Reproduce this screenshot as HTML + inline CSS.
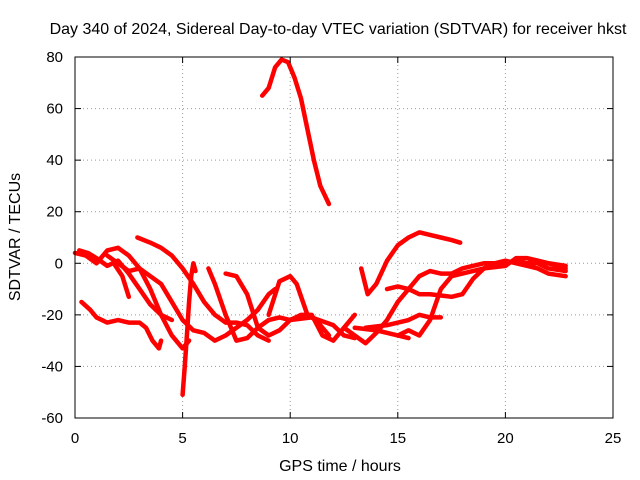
<!DOCTYPE html>
<html><head><meta charset="utf-8"><style>
body{margin:0;background:#fff}
svg{display:block;font-family:"Liberation Sans",sans-serif}
</style></head><body>
<svg id="chart" width="640" height="480">
<rect width="640" height="480" fill="#fff"/>
<text x="338" y="34" text-anchor="middle" font-size="16">Day 340 of 2024, Sidereal Day-to-day VTEC variation (SDTVAR) for receiver hkst</text>
<text transform="translate(20,237) rotate(-90)" text-anchor="middle" font-size="16">SDTVAR / TECUs</text>
<text x="340" y="471" text-anchor="middle" font-size="16">GPS time / hours</text>
<g id="grid"></g><g id="series"></g>
<rect x="75" y="57" width="538" height="361" fill="none" stroke="#000" stroke-width="1"/>
<g id="ticks"></g>
</svg>
<script>
const xTicks=[0,5,10,15,20,25];
const yTicks=[-60,-40,-20,0,20,40,60,80];
const tracks=[
[[8.7,65],[9.0,68],[9.3,76],[9.6,79],[9.9,78],[10.2,72],[10.5,64],[10.8,52],[11.1,40],[11.4,30],[11.8,23]],
[[0,4],[0.5,3],[1,0],[1.5,5],[2,6],[2.5,3],[3,-2],[3.5,-10],[4,-20],[4.5,-28],[5,-33],[5.3,-30]],
[[0.3,-15],[0.7,-18],[1,-21],[1.5,-23],[2,-22],[2.5,-23],[3,-23],[3.3,-25],[3.6,-30],[3.9,-33],[4,-30]],
[[2.9,10],[3.5,8],[4,6],[4.5,3],[5,-2],[5.5,-8],[6,-15],[6.5,-20],[7,-23],[7.5,-23],[8,-24],[8.5,-28],[9,-30]],
[[5.0,-51],[5.1,-40],[5.2,-28],[5.3,-15],[5.4,-5],[5.5,0],[5.6,-3]],
[[1.5,3],[2,0],[2.5,-3],[3,-2],[3.5,-5],[4,-8],[4.5,-15],[5,-22],[5.5,-26],[6,-27],[6.5,-30],[7,-28],[7.5,-25],[8,-22],[8.5,-18],[9,-12],[9.3,-10]],
[[6.2,-2],[6.5,-8],[7,-20],[7.5,-30],[8,-29],[8.5,-25],[9,-22],[9.5,-21],[10,-22],[10.5,-20],[11,-20],[11.5,-28],[12,-30],[12.5,-25],[13,-20]],
[[7,-4],[7.5,-5],[8,-12],[8.5,-25],[9,-28],[9.5,-26],[10,-22],[11,-21],[12,-24],[12.5,-28],[13,-29]],
[[9,-20],[9.5,-7],[10,-5],[10.3,-8],[10.8,-20],[11.2,-22],[11.8,-28]],
[[13.3,-2],[13.6,-12],[14,-8],[14.5,1],[15,7],[15.5,10],[16,12],[16.5,11],[17,10],[17.5,9],[17.9,8]],
[[12.5,-25],[13,-28],[13.5,-31],[14,-27],[14.5,-22],[15,-15],[15.5,-10],[16,-5],[16.5,-3],[17,-4],[17.5,-4],[18,-2],[18.5,-1],[19,0],[19.5,0],[20,1],[20.5,0],[21,-1],[21.5,-2],[22,-4],[22.8,-5]],
[[13,-25],[14,-26],[15,-28],[15.5,-29]],
[[13.5,-25],[14.5,-24],[15.5,-22],[16,-20],[16.5,-21],[17,-21]],
[[14.5,-10],[15,-9],[15.5,-10],[16,-12],[16.5,-12],[17,-12.5],[17.5,-13],[18,-12],[18.5,-6],[19,-2],[19.5,0],[20,0],[20.5,1],[21,0],[21.5,0],[22,-2],[22.8,-3]],
[[15,-28],[15.5,-26],[16,-28],[16.5,-22],[17,-10],[17.5,-5],[18,-4],[19,-2],[20,-1],[20.5,2],[21,2],[21.5,1],[22,0],[22.8,-1]],
[[21,2],[21.5,1],[22,0],[22.8,-2]],
[[1.8,0],[2.2,-5],[2.5,-13]],
[[0.2,5],[0.6,4],[1.0,2],[1.5,-1],[2,1],[2.5,-4],[3,-10],[3.5,-16],[4,-20],[4.5,-22]]
];
const X0=75,X1=613,Y0=418,Y1=57;
const sx=v=>X0+(v-0)/25*(X1-X0);
const sy=v=>Y0-(v+60)/140*(Y0-Y1);
const NS="http://www.w3.org/2000/svg";
const grid=document.getElementById('grid'),ticks=document.getElementById('ticks'),ser=document.getElementById('series');
function mk(tag,attrs,parent){const e=document.createElementNS(NS,tag);for(const k in attrs)e.setAttribute(k,attrs[k]);parent.appendChild(e);return e;}
xTicks.forEach(t=>{const x=sx(t);
 if(t>0&&t<25){const g=mk('line',{x1:x,x2:x,y1:Y0,y2:Y1,stroke:'#999','stroke-dasharray':'1,3'},grid);
 
 }
 mk('line',{x1:x,x2:x,y1:Y0,y2:Y0-6,stroke:'#000'},ticks);mk('line',{x1:x,x2:x,y1:Y1,y2:Y1+6,stroke:'#000'},ticks);
 const l=mk('text',{x:x,y:Y0+25,'text-anchor':'middle','font-size':15},ticks);l.textContent=t;
 
 });
yTicks.forEach(t=>{const y=sy(t);
 if(t>-60&&t<80){const g=mk('line',{x1:X0,x2:X1,y1:y,y2:y,stroke:'#999','stroke-dasharray':'1,3'},grid);
 
 }
 mk('line',{x1:X0,x2:X0+6,y1:y,y2:y,stroke:'#000'},ticks);mk('line',{x1:X1,x2:X1-6,y1:y,y2:y,stroke:'#000'},ticks);
 const l=mk('text',{x:X0-12,y:y+5,'text-anchor':'end','font-size':15},ticks);l.textContent=t;
 
 });
tracks.forEach((tr,i)=>{
 const p=mk('polyline',{points:tr.map(d=>sx(d[0])+','+sy(d[1])).join(' '),fill:'none',stroke:'#f00','stroke-width':4.5,'stroke-linejoin':'round','stroke-linecap':'round'},ser);
 
 
});
</script>
</body></html>
